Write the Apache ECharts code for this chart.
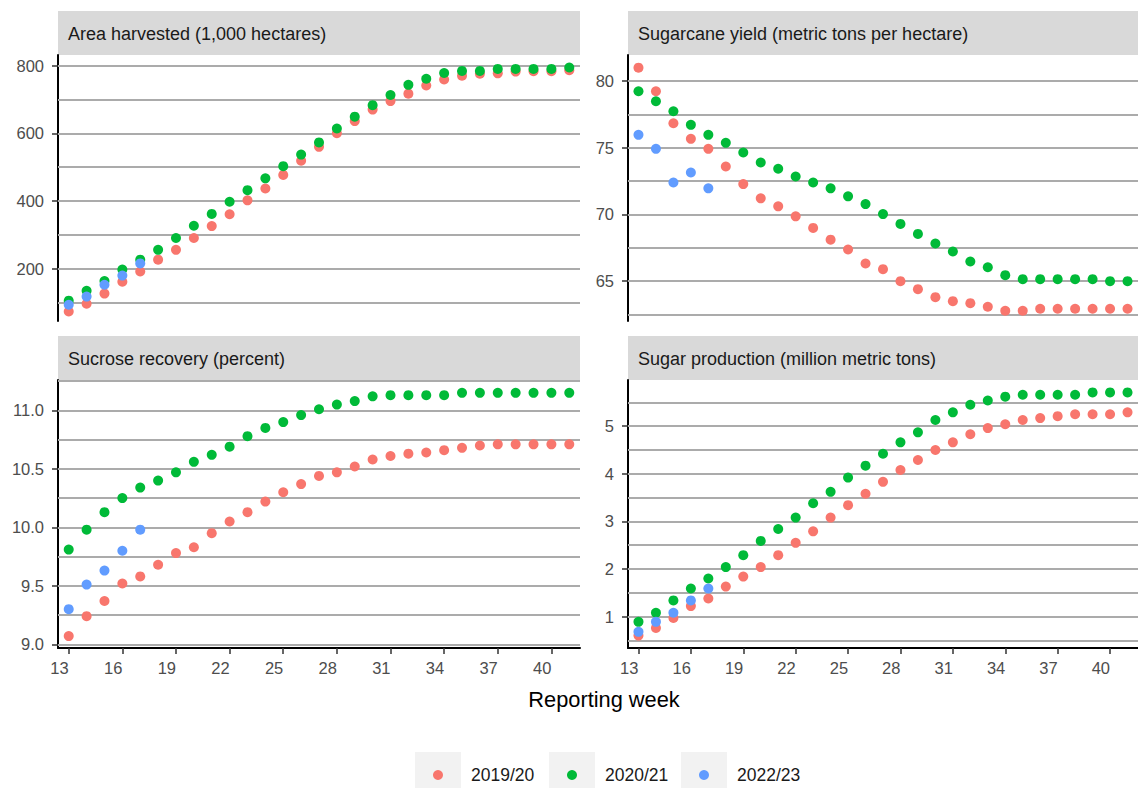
<!DOCTYPE html>
<html>
<head>
<meta charset="utf-8">
<title>Sugarcane harvest progress by reporting week</title>
<script src="https://cdn.jsdelivr.net/npm/echarts@6/dist/echarts.min.js"></script>
<style>
  html, body { margin: 0; padding: 0; background: #fff; }
  #chart { width: 1138px; height: 788px; }
</style>
</head>
<body>
<div id="chart"></div>
<script>
// reporting weeks (x axis)
const weeks = [13, 14, 15, 16, 17, 18, 19, 20, 21, 22, 23, 24, 25, 26, 27, 28, 29, 30, 31, 32, 33, 34, 35, 36, 37, 38, 39, 40, 41]
const weekTicks = [13, 16, 19, 22, 25, 28, 31, 34, 37, 40]
const seasons = ['2019/20', '2020/21', '2022/23']

// Area harvested (1,000 hectares)
const area1920 = [74, 97, 127, 162, 192, 227, 256, 291, 326, 361, 402, 437, 477, 519, 560, 600, 636, 670, 695, 717, 741, 759, 770, 776, 777, 782, 783, 783, 786]
const area2021 = [106, 135, 164, 198, 227, 256, 291, 327, 362, 398, 432, 467, 503, 537, 573, 614, 649, 683, 713, 743, 761, 778, 784, 784, 790, 790, 790, 790, 794]
const area2223 = [94, 118, 153, 180, 216]
const areaTicks = [200, 400, 600, 800]
const areaLines = [100, 200, 300, 400, 500, 600, 700, 800]

// Sugarcane yield (metric tons per hectare)
const yield1920 = [81.0, 79.23, 76.83, 75.66, 74.91, 73.59, 72.27, 71.2, 70.6, 69.85, 68.98, 68.1, 67.36, 66.31, 65.89, 64.99, 64.39, 63.79, 63.49, 63.34, 63.07, 62.77, 62.77, 62.92, 62.92, 62.92, 62.92, 62.92, 62.92]
const yield2021 = [79.23, 78.48, 77.73, 76.71, 75.96, 75.36, 74.64, 73.89, 73.42, 72.84, 72.39, 71.95, 71.35, 70.77, 70.02, 69.28, 68.53, 67.81, 67.21, 66.46, 66.03, 65.44, 65.14, 65.14, 65.14, 65.14, 65.14, 64.99, 64.99]
const yield2223 = [75.96, 74.91, 72.39, 73.14, 71.95]
const yieldTicks = [65, 70, 75, 80]
const yieldLines = [62.5, 65, 67.5, 70, 72.5, 75, 77.5, 80]

// Sucrose recovery (percent)
const sucrose1920 = [9.07, 9.24, 9.37, 9.52, 9.58, 9.68, 9.78, 9.83, 9.95, 10.05, 10.13, 10.22, 10.30, 10.37, 10.44, 10.47, 10.52, 10.58, 10.61, 10.63, 10.64, 10.66, 10.68, 10.70, 10.71, 10.71, 10.71, 10.71, 10.71]
const sucrose2021 = [9.81, 9.98, 10.13, 10.25, 10.34, 10.40, 10.47, 10.56, 10.62, 10.69, 10.78, 10.85, 10.90, 10.96, 11.01, 11.05, 11.08, 11.12, 11.13, 11.13, 11.13, 11.13, 11.15, 11.15, 11.15, 11.15, 11.15, 11.15, 11.15]
const sucrose2223 = [9.30, 9.51, 9.63, 9.80, 9.98]
const sucroseTicks = [9.0, 9.5, 10.0, 10.5, 11.0]
const sucroseLines = [9.0, 9.25, 9.5, 9.75, 10.0, 10.25, 10.5, 10.75, 11.0, 11.25]

// Sugar production (million metric tons)
const production1920 = [0.60, 0.76, 0.97, 1.22, 1.38, 1.63, 1.84, 2.04, 2.29, 2.55, 2.79, 3.08, 3.34, 3.58, 3.83, 4.08, 4.29, 4.50, 4.66, 4.83, 4.96, 5.04, 5.13, 5.17, 5.21, 5.25, 5.25, 5.25, 5.29]
const production2021 = [0.89, 1.08, 1.34, 1.59, 1.80, 2.04, 2.29, 2.59, 2.84, 3.08, 3.38, 3.62, 3.92, 4.17, 4.42, 4.66, 4.87, 5.13, 5.29, 5.45, 5.54, 5.62, 5.66, 5.66, 5.66, 5.66, 5.71, 5.71, 5.71]
const production2223 = [0.68, 0.89, 1.08, 1.34, 1.59]
const productionTicks = [1, 2, 3, 4, 5]
const productionLines = [0.5, 1, 1.5, 2, 2.5, 3, 3.5, 4, 4.5, 5, 5.5]

const colors = ['#F8766D', '#00BA38', '#619CFF']
const font = '"Liberation Sans", Arial, sans-serif'
const panelWidth = 522

// facet layout
const panels = [
  { title: 'Area harvested (1,000 hectares)', left: 58, top: 55, height: 266, min: 46, max: 831,
    ticks: areaTicks, lines: areaLines, data: [area1920, area2021, area2223], bottom: false, digits: 0 },
  { title: 'Sugarcane yield (metric tons per hectare)', left: 628, top: 55, height: 266, min: 62.0, max: 81.95,
    ticks: yieldTicks, lines: yieldLines, data: [yield1920, yield2021, yield2223], bottom: false, digits: 0 },
  { title: 'Sucrose recovery (percent)', left: 58, top: 380, height: 268, min: 8.968, max: 11.26,
    ticks: sucroseTicks, lines: sucroseLines, data: [sucrose1920, sucrose2021, sucrose2223], bottom: true, digits: 1 },
  { title: 'Sugar production (million metric tons)', left: 628, top: 380, height: 268, min: 0.34, max: 5.97,
    ticks: productionTicks, lines: productionLines, data: [production1920, production2021, production2223], bottom: true, digits: 0 }
]

function pairs (values) {
  return values.map((v, i) => [weeks[i], v])
}

const grid = panels.map(p => ({ left: p.left, top: p.top, width: panelWidth, height: p.height }))

const xAxis = panels.map((p, i) => ({
  gridIndex: i,
  type: 'value',
  min: 12.4,
  max: 41.6,
  axisLine: { show: p.bottom, onZero: false, lineStyle: { color: '#000', width: 2 } },
  axisTick: { show: p.bottom, customValues: weekTicks, length: 6, lineStyle: { color: '#333', width: 1.5 } },
  axisLabel: { show: p.bottom, customValues: weekTicks, align: 'right', margin: 11, color: '#4d4d4d', fontSize: 16.5, fontFamily: font },
  splitLine: { show: false }
}))

const yAxis = panels.map((p, i) => ({
  gridIndex: i,
  type: 'value',
  min: p.min,
  max: p.max,
  axisLine: { show: true, onZero: false, lineStyle: { color: '#000', width: 2 } },
  axisTick: { show: true, customValues: p.ticks, length: 6, lineStyle: { color: '#333', width: 1.5 } },
  axisLabel: {
    customValues: p.ticks, margin: 14, color: '#4d4d4d', fontSize: 16.5, fontFamily: font,
    formatter: v => v.toFixed(p.digits)
  },
  splitLine: { show: false }
}))

const series = []
panels.forEach((p, i) => {
  p.data.forEach((values, k) => {
    const s = {
      name: seasons[k],
      type: 'scatter',
      xAxisIndex: i,
      yAxisIndex: i,
      symbol: 'circle',
      symbolSize: 10,
      z: 3,
      itemStyle: { color: colors[k], opacity: 1 },
      emphasis: { disabled: true },
      data: pairs(values)
    }
    // horizontal grid lines, drawn under the points
    if (k === 0) {
      s.markLine = {
        silent: true,
        symbol: ['none', 'none'],
        z: 1,
        animation: false,
        label: { show: false },
        lineStyle: { color: '#ababab', width: 1.8, type: 'solid' },
        emphasis: { disabled: true },
        data: p.lines.map(v => ({ yAxis: v }))
      }
    }
    series.push(s)
  })
})

// facet strips, axis title, legend key boxes
const graphic = []
panels.forEach(p => {
  graphic.push({
    type: 'rect', z: 0,
    shape: { x: p.left, y: p.top - 44, width: p.left > 300 ? 530 : panelWidth, height: 44 },
    style: { fill: '#d9d9d9' }
  })
  graphic.push({
    type: 'text', z: 1,
    x: p.left + 10, y: p.top - 21,
    style: { text: p.title, fill: '#1a1a1a', font: '18px ' + font, textVerticalAlign: 'middle' }
  })
})
graphic.push({
  type: 'text', z: 1,
  x: 604, y: 699,
  style: { text: 'Reporting week', fill: '#000', font: '21.8px ' + font, textAlign: 'center', textVerticalAlign: 'middle' }
})
const boxLefts = [415, 549, 681]
boxLefts.forEach(x => {
  graphic.push({ type: 'rect', z: 0, shape: { x: x, y: 752, width: 46, height: 46 }, style: { fill: '#f2f2f2' } })
})

// legend dot sits in the middle of each grey key box
const legend = seasons.map((name, k) => ({
  data: [name],
  left: boxLefts[k] + 18,
  top: 766,
  padding: 0,
  icon: 'circle',
  itemWidth: 10,
  itemHeight: 10,
  selectedMode: false,
  textStyle: { fontSize: 17.5, color: '#1a1a1a', fontFamily: font, padding: [0, 0, 0, 23] }
}))

const myChart = echarts.init(document.getElementById('chart'), null, { renderer: 'svg' })
myChart.setOption({
  animation: false,
  backgroundColor: '#fff',
  textStyle: { fontFamily: font },
  grid: grid,
  xAxis: xAxis,
  yAxis: yAxis,
  legend: legend,
  graphic: graphic,
  series: series
})
</script>
</body>
</html>
